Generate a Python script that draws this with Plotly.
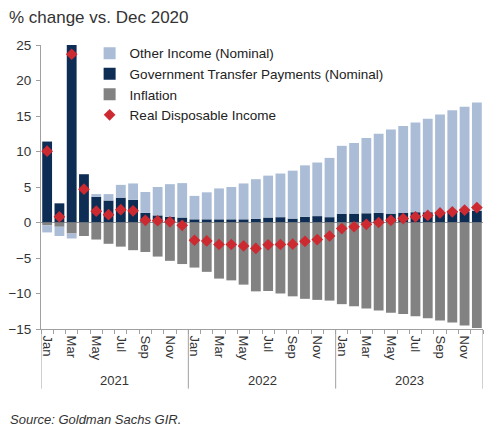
import pandas as pd
import plotly.graph_objects as go

# months Jan 2021 .. Dec 2023
periods = pd.period_range("2021-01", "2023-12", freq="M")
month_labels = [p.strftime("%b") for p in periods]
year_labels = [str(p.year) for p in periods]
years = ["2021", "2022", "2023"]

# % change vs. Dec 2020
gov_transfers = [11.4, 2.7, 25.0, 6.8, 3.6, 3.1, 3.5, 3.2, 1.35, 1.0, 0.8, 0.7,
                 0.45, 0.45, 0.45, 0.45, 0.45, 0.5, 0.7, 0.75, 0.55, 0.8, 0.9, 0.75,
                 1.2, 1.25, 1.3, 1.35, 1.25, 1.35, 1.45, 1.45, 1.5, 1.55, 1.55, 1.65]
other_income = [-1.0, -1.3, -0.7, 0.0, 0.4, 0.9, 1.8, 2.3, 2.95, 4.0, 4.6, 4.85,
                3.3, 3.8, 4.35, 4.55, 5.05, 5.6, 5.9, 6.15, 6.75, 7.25, 7.55, 8.35,
                9.6, 9.95, 10.6, 11.15, 11.85, 12.25, 12.65, 13.15, 13.7, 14.25, 14.75, 15.25]
inflation = [-0.4, -0.6, -1.55, -1.9, -2.4, -3.0, -3.4, -3.9, -4.15, -4.8, -5.4, -5.85,
             -6.35, -6.95, -7.9, -8.15, -8.75, -9.7, -9.65, -10.0, -10.4, -10.75, -10.9, -11.0,
             -11.5, -11.8, -12.1, -12.4, -12.7, -12.9, -13.2, -13.5, -13.8, -14.1, -14.5, -14.85]
real_income = [10.05, 0.8, 23.7, 4.7, 1.6, 1.1, 1.8, 1.65, 0.3, 0.25, 0.1, -0.4,
               -2.5, -2.6, -3.1, -3.1, -3.3, -3.65, -3.15, -3.1, -3.05, -2.65, -2.4, -1.9,
               -0.85, -0.6, -0.25, 0.0, 0.3, 0.55, 0.8, 1.0, 1.35, 1.5, 1.75, 2.1]

x = list(range(len(periods)))
TXT = "#333333"
AXC = "#a0a0a0"
FONT = "Liberation Sans, Arial, sans-serif"

fig = go.Figure()
# trace order sets stacking: transfers at the base above zero, inflation next to zero below
fig.add_trace(go.Bar(x=x, y=gov_transfers, name="Government Transfer Payments (Nominal)",
                     marker=dict(color="#0e2d54", line=dict(width=0)), legendrank=2))
fig.add_trace(go.Bar(x=x, y=inflation, name="Inflation",
                     marker=dict(color="#828282", line=dict(width=0)), legendrank=3))
fig.add_trace(go.Bar(x=x, y=other_income, name="Other Income (Nominal)",
                     marker=dict(color="#abbdd6", line=dict(width=0)), legendrank=1))
fig.add_trace(go.Scatter(x=x, y=real_income, name="Real Disposable Income", mode="markers",
                         marker=dict(symbol="diamond", size=9, color="#cc2a30"),
                         legendrank=4))

# year group labels and dividers under the month ticks
for yr in years:
    idx = [i for i, y in enumerate(year_labels) if y == yr]
    mid = sum(idx) / len(idx)
    fig.add_annotation(x=mid, y=-0.18, xref="x", yref="paper", text=yr, showarrow=False,
                       font=dict(size=13, color=TXT), yanchor="middle")
    fig.add_shape(type="line", x0=idx[0] - 0.5, x1=idx[0] - 0.5, y0=0, y1=-0.21,
                  xref="x", yref="paper", line=dict(color=AXC, width=1))
fig.add_shape(type="line", x0=x[-1] + 0.5, x1=x[-1] + 0.5, y0=0, y1=-0.21,
              xref="x", yref="paper", line=dict(color=AXC, width=1))

fig.add_annotation(text="Source: Goldman Sachs GIR.", xref="paper", yref="paper",
                   x=-0.075, y=-0.317, xanchor="left", yanchor="middle", showarrow=False,
                   font=dict(size=13, color=TXT, family=FONT, style="italic"))

# page body has an 8px margin, so the figure is sized/margined to land on the same pixels
fig.update_layout(
    width=484, height=419,
    barmode="relative", bargap=0.2,
    title=dict(text="% change vs. Dec 2020", x=0.002, xanchor="left", y=0.978, yanchor="middle",
               font=dict(size=17, color=TXT, family=FONT)),
    paper_bgcolor="white", plot_bgcolor="white",
    font=dict(family=FONT, color=TXT, size=13),
    margin=dict(l=33, r=9, t=37, b=98),
    legend=dict(x=0.11, y=1.025, xanchor="left", yanchor="top", bgcolor="rgba(0,0,0,0)",
                font=dict(size=13.5, color="#222222"), tracegroupgap=0, itemwidth=30),
    xaxis=dict(range=[-0.5, len(x) - 0.5], tickmode="array", automargin=False,
               tickvals=x[::2], ticktext=month_labels[::2], tickangle=90,
               ticks="", showgrid=False, zeroline=False, ticklabelstandoff=3,
               showline=True, linecolor=AXC, tickfont=dict(size=13, color=TXT),
               minor=dict(tick0=-0.5, dtick=1, ticks="outside", ticklen=4,
                          tickcolor=AXC, showgrid=False)),
    yaxis=dict(range=[-15, 25], dtick=5, showgrid=False, zeroline=True, automargin=False,
               zerolinecolor="#9a9a9a", zerolinewidth=1, ticklabelstandoff=2,
               showline=True, linecolor=AXC, ticks="outside", ticklen=4,
               tickcolor=AXC, tickfont=dict(size=13.5, color=TXT)),
)

fig.write_html("out.html")
